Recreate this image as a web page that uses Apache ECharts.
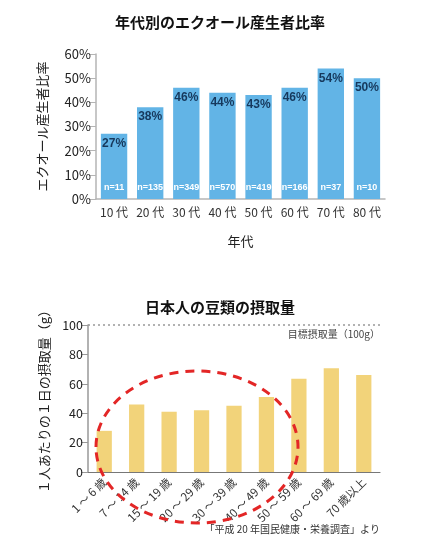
<!DOCTYPE html>
<html><head><meta charset="utf-8">
<script src="https://cdn.jsdelivr.net/npm/echarts@6/dist/echarts.min.js"></script>
<style>html,body{margin:0;padding:0;background:#fff}#c{width:440px;height:540px}</style>
</head><body><div id="c"></div>
<script>
const ageGroups = ['10 代','20 代','30 代','40 代','50 代','60 代','70 代','80 代'];
const equolRates = [27, 38, 46, 44, 43, 46, 54, 50];
const sampleSizes = [11, 135, 349, 570, 419, 166, 37, 10];
const rateTicks = [0, 10, 20, 30, 40, 50, 60];

const intakeGroups = ['1 ～ 6 歳','7 ～ 14 歳','15 ～ 19 歳','20 ～ 29 歳','30 ～ 39 歳','40 ～ 49 歳','50 ～ 59 歳','60 ～ 69 歳','70 歳以上'];
const intakeGrams = [28, 46, 41, 42, 45, 51, 63.5, 70.5, 66];
const intakeTicks = [0, 20, 40, 60, 80, 100];
const targetIntake = 100;

const FONT = '"Noto Sans CJK JP", "Noto Sans", sans-serif';
const LAT = '"Liberation Sans", Arial, sans-serif';
const chart = echarts.init(document.getElementById('c'));
chart.setOption({
  animation: false,
  textStyle: { fontFamily: FONT },
  title: [
    { text: '年代別のエクオール産生者比率', left: 'center', top: 10,
      textStyle: { fontSize: 15, fontWeight: 'bold', color: '#111', fontFamily: FONT } },
    { text: '日本人の豆類の摂取量', left: 'center', top: 295,
      textStyle: { fontSize: 15, fontWeight: 'bold', color: '#111', fontFamily: FONT } }
  ],
  grid: [
    { left: 96, right: 55, top: 54, height: 145 },
    { left: 88, right: 60, top: 325, height: 147 }
  ],
  xAxis: [
    { type: 'category', gridIndex: 0, data: ageGroups,
      axisLine: { lineStyle: { color: '#b5b5b5', width: 1.5 } },
      axisTick: { show: false },
      axisLabel: { fontSize: 12, color: '#333', margin: 7, interval: 0 },
      name: '年代', nameLocation: 'middle', nameGap: 36,
      nameTextStyle: { fontSize: 13, color: '#222' } },
    { type: 'category', gridIndex: 1, data: intakeGroups,
      axisLine: { lineStyle: { color: '#777', width: 1.2 } },
      axisTick: { show: false },
      axisLabel: { fontSize: 11.5, color: '#333', rotate: 45, margin: 8, interval: 0 } }
  ],
  yAxis: [
    { type: 'value', gridIndex: 0, min: rateTicks[0], max: rateTicks[rateTicks.length-1], interval: 10,
      axisLine: { show: true, lineStyle: { color: '#b5b5b5', width: 1.5 } },
      axisTick: { show: true, length: 7, lineStyle: { color: '#b5b5b5' } },
      splitLine: { show: false },
      axisLabel: { formatter: '{value}%', fontSize: 13, color: '#222', margin: 5 },
      name: 'エクオール産生者比率', nameLocation: 'middle', nameGap: 47, nameRotate: 90,
      nameTextStyle: { fontSize: 13, color: '#222' } },
    { type: 'value', gridIndex: 1, min: intakeTicks[0], max: intakeTicks[intakeTicks.length-1], interval: 20,
      axisLine: { show: true, lineStyle: { color: '#999', width: 1.5 } },
      axisTick: { show: true, length: 7, lineStyle: { color: '#999' } },
      splitLine: { show: false },
      axisLabel: { fontSize: 12.5, color: '#222', margin: 5 },
      name: '１人あたりの１日の摂取量（g）', nameLocation: 'middle', nameGap: 37, nameRotate: 90,
      nameTextStyle: { fontSize: 13, color: '#222' } }
  ],
  series: [
    { type: 'bar', xAxisIndex: 0, yAxisIndex: 0, data: equolRates, barWidth: '73%',
      itemStyle: { color: '#62b4e6' },
      label: { show: true, position: 'insideTop', distance: 4, formatter: '{c}%',
        fontSize: 12, fontWeight: 'bold', color: '#16385c', fontFamily: LAT } },
    { type: 'bar', xAxisIndex: 0, yAxisIndex: 0, data: equolRates, barWidth: '73%', barGap: '-100%',
      itemStyle: { color: 'rgba(0,0,0,0)' },
      label: { show: true, position: 'insideBottom', distance: 7,
        formatter: p => 'n=' + sampleSizes[p.dataIndex],
        fontSize: 9, fontWeight: 'bold', color: '#fff', fontFamily: LAT } },
    { type: 'bar', xAxisIndex: 1, yAxisIndex: 1, data: intakeGrams, barWidth: '47%',
      itemStyle: { color: '#f2d37a' },
      markLine: { silent: true, symbol: 'none',
        lineStyle: { type: [2, 3], color: '#999', width: 1.5 },
        label: { show: true, position: 'insideEndBottom', formatter: '目標摂取量（100g）',
          fontSize: 10, color: '#444', distance: [0, 4] },
        data: [{ yAxis: targetIntake }] } }
  ],
  graphic: [
    { type: 'ellipse', z: 100, shape: { cx: 197, cy: 447, rx: 101, ry: 76 },
      style: { fill: 'none', stroke: '#e32626', lineWidth: 3, lineDash: [9, 7] } },
    { type: 'text', right: 60, top: 524, z: 100,
      style: { text: '「平成 20 年国民健康・栄養調査」より', fontSize: 10, fill: '#333', fontFamily: FONT } }
  ]
});
</script></body></html>
